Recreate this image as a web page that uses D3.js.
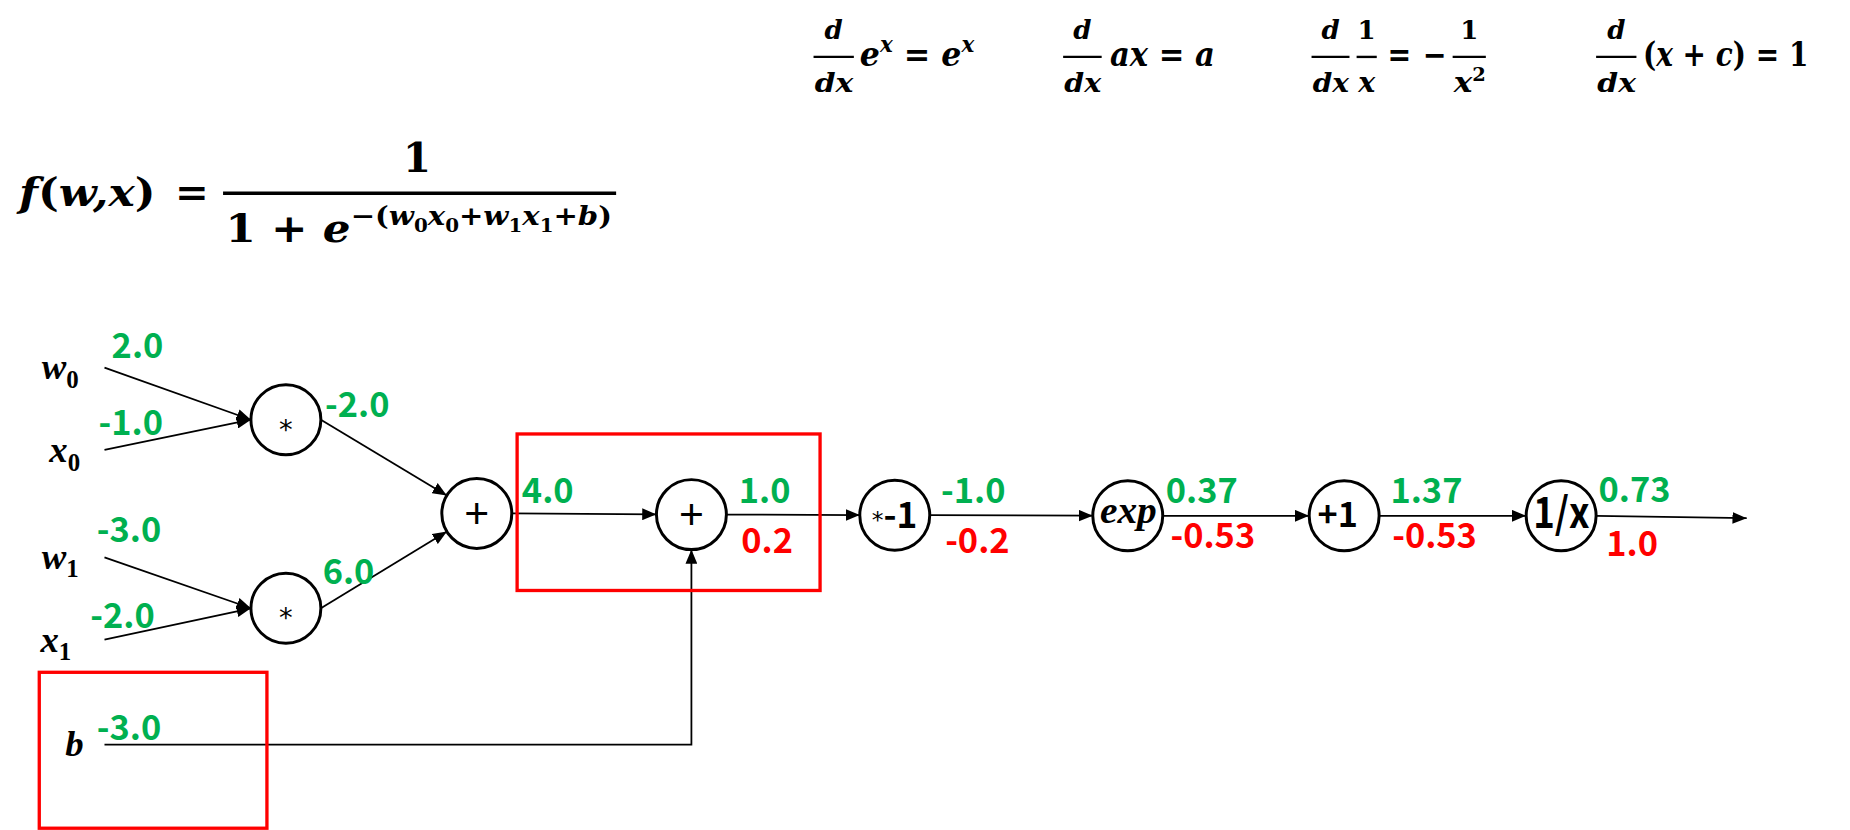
<!DOCTYPE html>
<html>
<head>
<meta charset="utf-8">
<script src="https://cdn.jsdelivr.net/npm/d3@7"></script>
<style>body{margin:0;background:#fff;}</style>
</head>
<body>
<script>
// 入力ノード
var inputNames = ["w", "x", "w", "x", "b"];
var inputSubs = ["0", "0", "1", "1", ""];
var inputValues = ["2.0", "-1.0", "-3.0", "-2.0", "-3.0"];

// 演算ノード
var opLabels = ["*", "*", "+", "+", "*-1", "exp", "+1", "1/x"];
var forwardValues = ["-2.0", "6.0", "4.0", "1.0", "-1.0", "0.37", "1.37", "0.73"];
var backwardValues = [null, null, null, "0.2", "-0.2", "-0.53", "-0.53", "1.0"];

// 辺
var edges = [
  ["in0", "op0"], ["in1", "op0"], ["in2", "op1"], ["in3", "op1"],
  ["op0", "op2"], ["op1", "op2"], ["op2", "op3"], ["in4", "op3"],
  ["op3", "op4"], ["op4", "op5"], ["op5", "op6"], ["op6", "op7"], ["op7", "out"]
];

// レイアウト (1560x700 の座標系)
var inputPos = [[88, 310], [88, 379.5], [88, 470], [88, 539.5], [88, 628]];
var inputLabelPos = [[35, 320], [41.5, 390], [35, 480], [34, 549.5], [55, 638]];
var inputValuePos = [[94, 302], [83, 367], [81.5, 457.5], [76, 530], [81.5, 624]];
var opPos = [[241, 354], [241, 513], [402, 433], [583, 434], [754.5, 434.5], [951, 435], [1133.5, 435], [1316.5, 435]];
var fwdPos = [[274, 352], [272, 492.5], [440, 424], [623, 424], [793.5, 424], [983, 424], [1172.5, 424], [1348, 423]];
var bwdPos = [null, null, null, [625, 466], [797, 466.5], [987, 462], [1174, 462], [1354.5, 469]];
var outPos = [1473, 437];
var boxes = [[436, 366, 255.5, 132], [33, 567, 192, 131.5]];
var R = 29.5;

var GREEN = "#00B050", RED = "#FF0000";
var serif = "'Liberation Serif', serif";
var mathf = "'DejaVu Serif', serif";
var sans = "'Noto Sans CJK KR', 'Noto Sans', sans-serif";

var svg = d3.select("body").append("svg")
  .attr("width", 1850)
  .attr("height", 830)
  .attr("viewBox", "0 0 1560 700");

svg.append("defs").append("marker")
  .attr("id", "arr")
  .attr("viewBox", "0 0 12 10")
  .attr("refX", 12).attr("refY", 5)
  .attr("markerWidth", 12).attr("markerHeight", 10)
  .attr("markerUnits", "userSpaceOnUse")
  .attr("orient", "auto")
  .append("path").attr("d", "M0,0L12,5L0,10z").attr("fill", "#000");

// 文字列を tspan で並べる
function runs(g, x, y, parts, anchor, font) {
  var t = g.append("text")
    .attr("x", x).attr("y", y)
    .attr("font-family", font || mathf)
    .attr("font-weight", "bold")
    .attr("text-anchor", anchor || "start")
    .attr("fill", "#000");
  var cur = 0;
  parts.forEach(function(p) {
    var s = p.s || 0;
    t.append("tspan")
      .attr("dy", s - cur)
      .attr("font-size", p.z)
      .attr("font-style", p.i ? "italic" : "normal")
      .text(p.t);
    cur = s;
  });
  return t;
}

// 横幅を [x0, x1] に合わせる
function fit(t, x0, x1) {
  var b = t.node().getBBox();
  var s = (x1 - x0) / b.width;
  t.attr("transform", "translate(" + x0 + ",0) scale(" + s + ",1) translate(" + (-b.x) + ",0)");
  return t;
}

function frac(x0, x1, by, num, den, z) {
  svg.append("line")
    .attr("x1", x0).attr("x2", x1)
    .attr("y1", by).attr("y2", by)
    .attr("stroke", "#000").attr("stroke-width", 2);
  var cx = (x0 + x1) / 2;
  runs(svg, cx, by - 15, num, "middle");
  var d = runs(svg, cx, by + 29.5, den, "middle");
  return d;
}

// 上部の微分公式
var z = 28, zs = 19, fz = 22, BAR = 48, BASE = 56;
function dx(x0, x1) {
  fit(frac(x0, x1, BAR, [{t: "d", z: fz, i: 1}], [{t: "dx", z: fz, i: 1}]), x0 + 1, x1);
}
dx(686, 720);
fit(runs(svg, 0, BASE, [{t: "e", z: z, i: 1}, {t: "x", z: zs, i: 1, s: -12}, {t: " = ", z: z}, {t: "e", z: z, i: 1}, {t: "x", z: zs, i: 1, s: -12}]), 725, 822);
dx(896.5, 929);
fit(runs(svg, 0, BASE, [{t: "ax", z: z, i: 1}, {t: " = ", z: z}, {t: "a", z: z, i: 1}]), 936, 1024.5);
dx(1106, 1138);
frac(1144, 1161, BAR, [{t: "1", z: fz}], [{t: "x", z: 24, i: 1}]);
fit(runs(svg, 0, BASE, [{t: "=", z: z}]), 1170, 1190);
fit(runs(svg, 0, BASE, [{t: "−", z: z}]), 1200, 1220);
fit(frac(1225, 1253, BAR, [{t: "1", z: fz}], [{t: "x", z: 24, i: 1}, {t: "2", z: 15, s: -9}]), 1225, 1253);
dx(1346, 1380);
fit(runs(svg, 0, BASE, [{t: "(", z: z}, {t: "x", z: z, i: 1}, {t: " + ", z: z}, {t: "c", z: z, i: 1}, {t: ") = 1", z: z}]), 1385.5, 1525);

// シグモイド関数の式
fit(runs(svg, 0, 174, [{t: "f", z: 33, i: 1}, {t: "(", z: 33}, {t: "w,x", z: 33, i: 1}, {t: ")", z: 33}]), 13, 131);
fit(runs(svg, 0, 174, [{t: "=", z: 33}]), 147.5, 176);
svg.append("line").attr("x1", 188).attr("x2", 519.5).attr("y1", 163).attr("y2", 163)
  .attr("stroke", "#000").attr("stroke-width", 2.8);
runs(svg, 351.5, 145, [{t: "1", z: 34}], "middle");
var e = 22, es = 15, up = -14, dn = -8;
fit(runs(svg, 0, 204, [
  {t: "1 + ", z: 33}, {t: "e", z: 33, i: 1},
  {t: "−(", z: e, s: up}, {t: "w", z: e, i: 1, s: up}, {t: "0", z: es, s: dn},
  {t: "x", z: e, i: 1, s: up}, {t: "0", z: es, s: dn}, {t: "+", z: e, s: up},
  {t: "w", z: e, i: 1, s: up}, {t: "1", z: es, s: dn},
  {t: "x", z: e, i: 1, s: up}, {t: "1", z: es, s: dn}, {t: "+", z: e, s: up},
  {t: "b", z: e, i: 1, s: up}, {t: ")", z: e, s: up}
]), 190, 516);

// ノード座標
function pos(id) {
  if (id === "out") return outPos;
  var k = +id.slice(2);
  return id.slice(0, 2) === "in" ? inputPos[k] : opPos[k];
}

// 辺
edges.forEach(function(ed) {
  var a = pos(ed[0]), b = pos(ed[1]);
  var d;
  if (ed[0] === "in4") {
    d = "M" + a[0] + "," + a[1] + "H" + b[0] + "V" + (b[1] + R);
  } else if (ed[0].slice(0, 2) === "in") {
    d = "M" + a[0] + "," + a[1] + "L" + (b[0] - R) + "," + b[1];
  } else {
    var x1 = a[0] + R, y1 = a[1], x2 = b[0], y2 = b[1];
    if (ed[1] !== "out") {
      var dx = x2 - x1, dy = y2 - y1, L = Math.sqrt(dx * dx + dy * dy);
      x2 -= dx / L * R; y2 -= dy / L * R;
    }
    d = "M" + x1 + "," + y1 + "L" + x2 + "," + y2;
  }
  svg.append("path").attr("d", d)
    .attr("fill", "none").attr("stroke", "#000").attr("stroke-width", 1.5)
    .attr("marker-end", "url(#arr)");
});

// 演算ノード
var ops = svg.selectAll("g.op").data(opLabels).enter().append("g")
  .attr("class", "op")
  .attr("transform", function(d, i) { return "translate(" + opPos[i][0] + "," + opPos[i][1] + ")"; });
ops.append("circle").attr("r", R).attr("fill", "#fff").attr("stroke", "#000").attr("stroke-width", 2.5);
ops.each(function(d) {
  var g = d3.select(this);
  if (d === "*") {
    g.append("text").attr("text-anchor", "middle").attr("y", 16).attr("font-family", "'DejaVu Sans'").attr("font-size", 23).text("*");
  } else if (d === "+") {
    g.append("text").attr("text-anchor", "middle").attr("y", 12).attr("font-family", "'Liberation Sans'").attr("font-size", 36).text("+");
  } else if (d === "*-1") {
    var t = g.append("text").attr("y", 11).attr("font-family", sans);
    t.append("tspan").attr("font-family", "'DejaVu Sans'").attr("font-size", 20).text("*");
    t.append("tspan").attr("font-size", 30).attr("font-weight", "bold").text("-1");
    fit(t, -19.5, 19);
  } else if (d === "exp") {
    fit(g.append("text").attr("y", 6).attr("font-family", serif).attr("font-style", "italic").attr("font-weight", "bold").attr("font-size", 32).text("exp"), -23.5, 24.5);
  } else if (d === "+1") {
    fit(g.append("text").attr("y", 9.5).attr("font-family", sans).attr("font-weight", "bold").attr("font-size", 29).text(d), -22.5, 11.5);
  } else {
    fit(g.append("text").attr("y", 10).attr("font-family", sans).attr("font-weight", "bold").attr("font-size", 36).text(d), -23.5, 24);
  }
});

// 入力ラベル
inputNames.forEach(function(n, i) {
  var parts = [{t: n, z: 31, i: 1}];
  if (inputSubs[i]) parts.push({t: inputSubs[i], z: 21, s: 7});
  runs(svg, inputLabelPos[i][0], inputLabelPos[i][1], parts, "start", serif);
});

// 値 (順伝播: 緑, 逆伝播: 赤)
function valueText(arr, p, color) {
  arr.forEach(function(v, i) {
    if (v === null) return;
    svg.append("text")
      .attr("x", p[i][0]).attr("y", p[i][1])
      .attr("font-family", sans).attr("font-weight", "bold")
      .attr("font-size", 29).attr("fill", color)
      .text(v);
  });
}
valueText(inputValues, inputValuePos, GREEN);
valueText(forwardValues, fwdPos, GREEN);
valueText(backwardValues, bwdPos, RED);

// 赤枠
svg.selectAll("rect.box").data(boxes).enter().append("rect")
  .attr("class", "box")
  .attr("x", function(d) { return d[0]; })
  .attr("y", function(d) { return d[1]; })
  .attr("width", function(d) { return d[2]; })
  .attr("height", function(d) { return d[3]; })
  .attr("fill", "none").attr("stroke", RED).attr("stroke-width", 2.8);
</script>
</body>
</html>
